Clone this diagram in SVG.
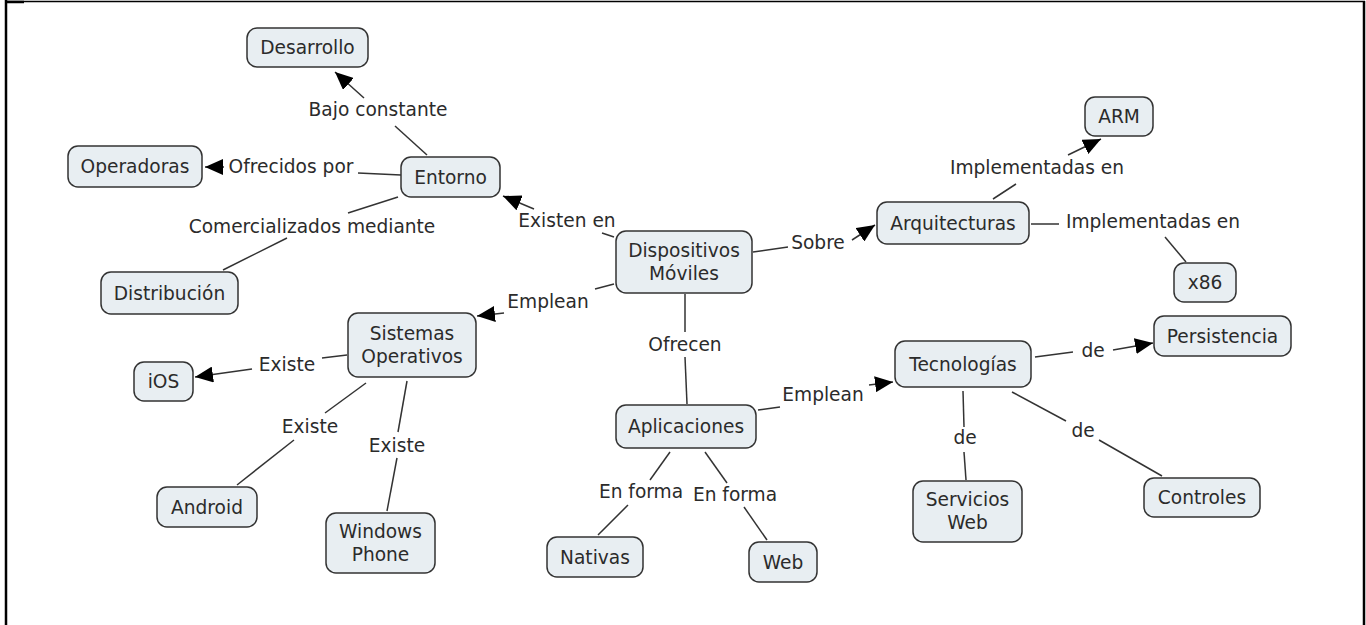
<svg xmlns="http://www.w3.org/2000/svg" width="1366" height="625" viewBox="0 0 1366 625">
<style>
.n rect{fill:#e8eef2;stroke:#333;stroke-width:1.5}
text{font-family:"DejaVu Sans","Verdana",sans-serif;font-size:18.6px;fill:#2b2b2b;text-anchor:middle}
.c line,.c path{stroke:#333;stroke-width:1.5;fill:none}
.frame{stroke:#000;fill:none}
</style>
<defs>
<marker id="ah" markerUnits="userSpaceOnUse" markerWidth="19" markerHeight="16" refX="18" refY="8" orient="auto">
<path d="M0,0 L18,8 L0,16 z" fill="#000"/>
</marker>
</defs>
<rect x="0" y="0" width="1366" height="625" fill="#fff"/>
<g id="frame">
<line class="frame" x1="6" y1="0" x2="6" y2="625" stroke-width="2.5"/>
<line class="frame" x1="5" y1="1.5" x2="1365" y2="1.5" stroke-width="1.5"/>
<line class="frame" x1="5" y1="2" x2="24" y2="2" stroke-width="2.5"/>
<line class="frame" x1="1364" y1="1" x2="1364" y2="625" stroke-width="2.5"/>
</g>
<g id="connectors" class="c">
<!-- Existen en -->
<line x1="614" y1="237" x2="602" y2="233"/>
<line x1="534" y1="209" x2="503" y2="196" marker-end="url(#ah)"/>
<text x="567" y="227">Existen en</text>
<!-- Bajo constante -->
<line x1="427" y1="155" x2="395" y2="126"/>
<line x1="364" y1="98" x2="335" y2="72" marker-end="url(#ah)"/>
<text x="378" y="116">Bajo constante</text>
<!-- Ofrecidos por -->
<line x1="401" y1="175" x2="358" y2="173"/>
<line x1="224" y1="167" x2="205" y2="167" marker-end="url(#ah)"/>
<text x="291" y="173">Ofrecidos por</text>
<!-- Comercializados mediante -->
<line x1="398" y1="197" x2="348" y2="213"/>
<line x1="287" y1="238" x2="223" y2="270"/>
<text x="312" y="233">Comercializados mediante</text>
<!-- Emplean SO -->
<line x1="614" y1="284" x2="595" y2="289"/>
<line x1="504" y1="313" x2="477" y2="316" marker-end="url(#ah)"/>
<text x="548" y="308">Emplean</text>
<!-- Sobre -->
<line x1="753" y1="252" x2="788" y2="247"/>
<line x1="852" y1="240" x2="875" y2="225" marker-end="url(#ah)"/>
<text x="818" y="249">Sobre</text>
<!-- Ofrecen -->
<line x1="685" y1="294" x2="685" y2="332"/>
<line x1="685" y1="357" x2="687" y2="404"/>
<text x="685" y="351">Ofrecen</text>
<!-- Implementadas en ARM -->
<line x1="993" y1="199" x2="1016" y2="184"/>
<line x1="1068" y1="155" x2="1101" y2="139" marker-end="url(#ah)"/>
<text x="1037" y="174">Implementadas en</text>
<!-- Implementadas en x86 -->
<line x1="1031" y1="224" x2="1059" y2="224"/>
<line x1="1165" y1="237" x2="1186" y2="262"/>
<text x="1153" y="228">Implementadas en</text>
<!-- Existe iOS -->
<line x1="347" y1="355" x2="322" y2="358"/>
<line x1="252" y1="369" x2="195" y2="377" marker-end="url(#ah)"/>
<text x="287" y="371">Existe</text>
<!-- Existe Android -->
<line x1="366" y1="383" x2="325" y2="413"/>
<line x1="294" y1="440" x2="237" y2="485"/>
<text x="310" y="433">Existe</text>
<!-- Existe WP -->
<line x1="407" y1="381" x2="398" y2="432"/>
<line x1="397" y1="458" x2="387" y2="511"/>
<text x="397" y="452">Existe</text>
<!-- Emplean Tec -->
<line x1="758" y1="410" x2="780" y2="407"/>
<line x1="869" y1="385" x2="893" y2="382" marker-end="url(#ah)"/>
<text x="823" y="401">Emplean</text>
<!-- En forma Nativas -->
<line x1="670" y1="452" x2="650" y2="480"/>
<line x1="628" y1="505" x2="598" y2="535"/>
<text x="641" y="498">En forma</text>
<!-- En forma Web -->
<line x1="705" y1="452" x2="727" y2="483"/>
<line x1="744" y1="507" x2="767" y2="540"/>
<text x="735" y="501">En forma</text>
<!-- de Persistencia -->
<line x1="1035" y1="357" x2="1073" y2="352"/>
<line x1="1113" y1="350" x2="1153" y2="343" marker-end="url(#ah)"/>
<text x="1093" y="357">de</text>
<!-- de Servicios Web -->
<line x1="963" y1="391" x2="964" y2="427"/>
<line x1="964" y1="452" x2="966" y2="480"/>
<text x="965" y="444">de</text>
<!-- de Controles -->
<line x1="1012" y1="392" x2="1066" y2="421"/>
<line x1="1099" y1="440" x2="1162" y2="476"/>
<text x="1083" y="437">de</text>
</g>
<g id="desarrollo" class="n"><rect x="247" y="28" width="121" height="39" rx="10"/><text x="307.5" y="54">Desarrollo</text></g>
<g id="operadoras" class="n"><rect x="68" y="146" width="134" height="41" rx="10"/><text x="135" y="173">Operadoras</text></g>
<g id="entorno" class="n"><rect x="401" y="157" width="99" height="40" rx="10"/><text x="450.5" y="183.5">Entorno</text></g>
<g id="distribucion" class="n"><rect x="101" y="272" width="137" height="42" rx="10"/><text x="169.5" y="299.5">Distribución</text></g>
<g id="dispositivos" class="n"><rect x="616" y="231" width="136" height="62" rx="10"/><text x="684" y="257">Dispositivos</text><text x="684" y="280">Móviles</text></g>
<g id="arquitecturas" class="n"><rect x="877" y="202" width="152" height="42" rx="10"/><text x="953" y="229.5">Arquitecturas</text></g>
<g id="arm" class="n"><rect x="1085" y="97" width="68" height="39" rx="10"/><text x="1119" y="123">ARM</text></g>
<g id="x86" class="n"><rect x="1174" y="263" width="62" height="39" rx="10"/><text x="1205" y="289">x86</text></g>
<g id="persistencia" class="n"><rect x="1154" y="316" width="137" height="40" rx="10"/><text x="1222.5" y="342.5">Persistencia</text></g>
<g id="tecnologias" class="n"><rect x="895" y="341" width="136" height="46" rx="10"/><text x="963" y="370.5">Tecnologías</text></g>
<g id="servicios" class="n"><rect x="913" y="481" width="109" height="61" rx="10"/><text x="967.5" y="506">Servicios</text><text x="967.5" y="529">Web</text></g>
<g id="controles" class="n"><rect x="1144" y="478" width="116" height="39" rx="10"/><text x="1202" y="504">Controles</text></g>
<g id="aplicaciones" class="n"><rect x="616" y="405" width="140" height="43" rx="10"/><text x="686" y="433">Aplicaciones</text></g>
<g id="nativas" class="n"><rect x="547" y="537" width="96" height="40" rx="10"/><text x="595" y="563.5">Nativas</text></g>
<g id="web" class="n"><rect x="749" y="542" width="68" height="40" rx="10"/><text x="783" y="568.5">Web</text></g>
<g id="sistemas" class="n"><rect x="348" y="313" width="128" height="64" rx="10"/><text x="412" y="339.5">Sistemas</text><text x="412" y="362.5">Operativos</text></g>
<g id="ios" class="n"><rect x="134" y="362" width="59" height="39" rx="10"/><text x="163.5" y="388">iOS</text></g>
<g id="android" class="n"><rect x="157" y="487" width="100" height="40" rx="10"/><text x="207" y="513.5">Android</text></g>
<g id="windows" class="n"><rect x="326" y="513" width="109" height="60" rx="10"/><text x="380.5" y="537.5">Windows</text><text x="380.5" y="560.5">Phone</text></g>
</svg>
